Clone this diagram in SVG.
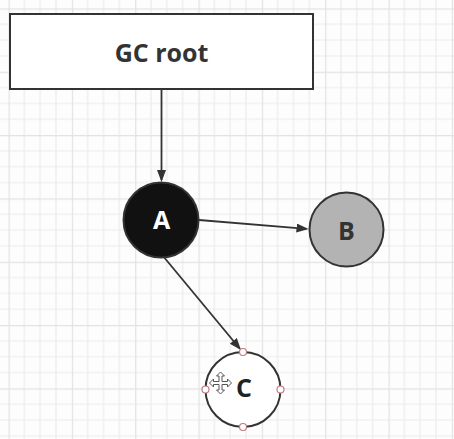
<svg xmlns="http://www.w3.org/2000/svg" width="454" height="439" viewBox="0 0 454 439">
  <style>
    .lbl { font-family: "Open Sans", "Liberation Sans", sans-serif; font-weight: bold; font-size: 25px; text-anchor: middle; }
    .edge { stroke: #333333; stroke-width: 1.8; fill: none; }
    .node { stroke: #333333; stroke-width: 2; }
    .handle { fill: #ffffff; stroke: #c07a80; stroke-width: 1.2; }
  </style>
  <defs>
    <pattern id="grid" patternUnits="userSpaceOnUse" x="8.5" y="8.4" width="63.33" height="63.33">
      <path d="M15.83 0V63.33M31.66 0V63.33M47.5 0V63.33M0 15.83H63.33M0 31.66H63.33M0 47.5H63.33" stroke="#ececec" stroke-width="1.2" fill="none"/>
      <path d="M0.5 0V63.33M0 0.5H63.33" stroke="#e2e2e2" stroke-width="1.4" fill="none"/>
    </pattern>
    <marker id="arrow" markerUnits="userSpaceOnUse" markerWidth="14" markerHeight="12" refX="10" refY="4.5" orient="auto">
      <path d="M0 0L12 4.5L0 9Z" fill="#333333"/>
    </marker>
  </defs>
  <rect width="454" height="439" fill="#fdfdfd"/>
  <rect width="454" height="439" fill="url(#grid)"/>

  <g id="connectors">
    <line class="edge" x1="161.5" y1="89" x2="161.5" y2="180" marker-end="url(#arrow)"/>
    <line class="edge" x1="199" y1="220" x2="306.5" y2="228.8" marker-end="url(#arrow)"/>
    <line class="edge" x1="163" y1="256" x2="239.7" y2="348.5" marker-end="url(#arrow)"/>
  </g>

  <g id="gc-root">
    <rect x="10" y="14" width="303" height="75" fill="#ffffff" class="node"/>
    <text class="lbl" x="161.5" y="62" fill="#333333">GC root</text>
  </g>

  <g id="node-a">
    <circle cx="161" cy="220" r="37.5" fill="#111111" class="node"/>
    <text class="lbl" x="161.5" y="229" fill="#ffffff">A</text>
  </g>

  <g id="node-b">
    <circle cx="346.5" cy="229.5" r="37" fill="#b3b3b3" class="node"/>
    <text class="lbl" x="346.5" y="239.5" fill="#333333">B</text>
  </g>

  <g id="node-c">
    <circle cx="243" cy="389.5" r="37.5" fill="#ffffff" class="node"/>
    <text class="lbl" x="244" y="397" fill="#222222">C</text>
    <circle class="handle" cx="243" cy="352" r="3.5"/>
    <circle class="handle" cx="205.5" cy="389.5" r="3.5"/>
    <circle class="handle" cx="280.5" cy="389.5" r="3.5"/>
    <circle class="handle" cx="243" cy="427" r="3.5"/>
    <polygon transform="translate(220.5 383)" fill="#ffffff" stroke="#555555" stroke-width="1" points="0,-11 4,-7 1.5,-7 1.5,-1.5 7,-1.5 7,-4 11,0 7,4 7,1.5 1.5,1.5 1.5,7 4,7 0,11 -4,7 -1.5,7 -1.5,1.5 -7,1.5 -7,4 -11,0 -7,-4 -7,-1.5 -1.5,-1.5 -1.5,-7 -4,-7"/>
  </g>
</svg>
